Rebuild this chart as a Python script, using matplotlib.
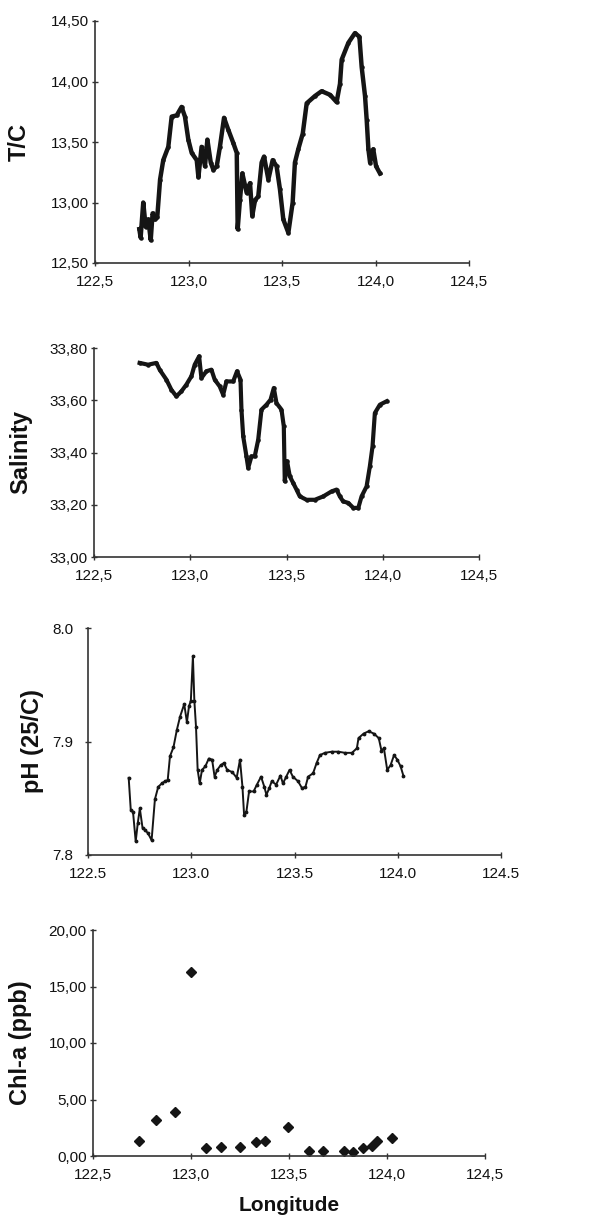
# Four stacked profiles along longitude: temperature, salinity, pH, chlorophyll-a
import matplotlib
matplotlib.use("Agg")
import matplotlib.pyplot as plt

plt.rcParams['font.family'] = ['Liberation Sans', 'DejaVu Sans']

# --- data ---
temp_lon = [122.737, 122.744, 122.758, 122.771, 122.785, 122.798, 122.808, 122.821, 122.833,
            122.848, 122.865, 122.892, 122.910, 122.937, 122.963, 122.981, 122.999, 123.017,
            123.044, 123.053, 123.070, 123.088, 123.101, 123.119, 123.133, 123.151, 123.168,
            123.190, 123.213, 123.240, 123.258, 123.263, 123.275, 123.288, 123.311, 123.329,
            123.341, 123.356, 123.373, 123.391, 123.404, 123.427, 123.450, 123.471, 123.489,
            123.507, 123.534, 123.557, 123.569, 123.587, 123.611, 123.632, 123.676, 123.712,
            123.757, 123.792, 123.810, 123.819, 123.855, 123.890, 123.914, 123.926, 123.944,
            123.953, 123.962, 123.971, 123.988, 124.003, 124.024]
temp_val = [12.78, 12.71, 13.00, 12.80, 12.86, 12.69, 12.91, 12.86, 12.88,
            13.19, 13.35, 13.46, 13.71, 13.72, 13.79, 13.71, 13.52, 13.41,
            13.35, 13.21, 13.46, 13.30, 13.52, 13.33, 13.27, 13.30, 13.46,
            13.70, 13.60, 13.49, 13.41, 12.78, 13.02, 13.24, 13.08, 13.16,
            12.89, 13.02, 13.05, 13.33, 13.38, 13.19, 13.35, 13.30, 13.11,
            12.86, 12.75, 13.00, 13.33, 13.44, 13.57, 13.82, 13.88, 13.92,
            13.89, 13.83, 13.98, 14.18, 14.32, 14.40, 14.37, 14.12, 13.88,
            13.68, 13.44, 13.33, 13.44, 13.30, 13.24]

sal_lon = [122.737, 122.781, 122.824, 122.841, 122.876, 122.902, 122.928, 122.954, 122.980,
           123.006, 123.023, 123.046, 123.058, 123.084, 123.110, 123.127, 123.153, 123.171,
           123.188, 123.223, 123.243, 123.261, 123.266, 123.275, 123.292, 123.301, 123.318,
           123.335, 123.353, 123.370, 123.396, 123.417, 123.434, 123.448, 123.474, 123.486,
           123.491, 123.503, 123.517, 123.535, 123.552, 123.569, 123.604, 123.647, 123.691,
           123.734, 123.760, 123.777, 123.794, 123.821, 123.847, 123.873, 123.890, 123.916,
           123.933, 123.947, 123.959, 123.985, 124.020]
sal_val = [33.743, 33.736, 33.743, 33.717, 33.679, 33.640, 33.615, 33.634, 33.660,
           33.692, 33.736, 33.768, 33.685, 33.711, 33.717, 33.679, 33.653, 33.621,
           33.672, 33.672, 33.711, 33.679, 33.564, 33.462, 33.385, 33.341, 33.385,
           33.385, 33.449, 33.564, 33.583, 33.602, 33.647, 33.589, 33.564, 33.500,
           33.290, 33.366, 33.309, 33.283, 33.258, 33.232, 33.219, 33.219, 33.232,
           33.251, 33.258, 33.232, 33.213, 33.207, 33.188, 33.188, 33.232, 33.270,
           33.347, 33.424, 33.551, 33.583, 33.596]

ph_lon = [122.697, 122.707, 122.718, 122.731, 122.741, 122.751, 122.764, 122.777, 122.791,
          122.808, 122.824, 122.840, 122.857, 122.873, 122.886, 122.897, 122.914, 122.930,
          122.946, 122.966, 122.979, 122.989, 122.998, 123.008, 123.015, 123.023, 123.031,
          123.041, 123.052, 123.068, 123.085, 123.101, 123.113, 123.126, 123.142, 123.158,
          123.174, 123.199, 123.220, 123.236, 123.248, 123.256, 123.267, 123.280, 123.302,
          123.318, 123.338, 123.354, 123.364, 123.378, 123.390, 123.411, 123.432, 123.444,
          123.460, 123.476, 123.492, 123.517, 123.536, 123.553, 123.566, 123.590, 123.607,
          123.623, 123.647, 123.680, 123.713, 123.745, 123.778, 123.802, 123.810, 123.835,
          123.859, 123.884, 123.908, 123.921, 123.933, 123.949, 123.965, 123.982, 123.998,
          124.014, 124.027]
ph_val = [7.868, 7.840, 7.838, 7.812, 7.828, 7.841, 7.824, 7.822, 7.819,
          7.813, 7.849, 7.860, 7.863, 7.865, 7.866, 7.887, 7.895, 7.910,
          7.922, 7.933, 7.917, 7.931, 7.936, 7.975, 7.936, 7.913, 7.875,
          7.863, 7.875, 7.878, 7.885, 7.884, 7.869, 7.875, 7.879, 7.881,
          7.875, 7.873, 7.868, 7.884, 7.860, 7.835, 7.838, 7.856, 7.856,
          7.862, 7.869, 7.860, 7.853, 7.859, 7.865, 7.862, 7.870, 7.863,
          7.869, 7.875, 7.869, 7.865, 7.859, 7.860, 7.869, 7.872, 7.881,
          7.888, 7.890, 7.891, 7.891, 7.890, 7.890, 7.894, 7.903, 7.907,
          7.909, 7.907, 7.903, 7.892, 7.894, 7.875, 7.879, 7.888, 7.884,
          7.878, 7.870]

chl_lon = [122.734, 122.823, 122.919, 123.000, 123.077, 123.151, 123.252, 123.331, 123.379,
           123.494, 123.600, 123.672, 123.780, 123.828, 123.875, 123.921, 123.950, 124.026]
chl_val = [1.33, 3.19, 3.86, 16.31, 0.68, 0.83, 0.83, 1.21, 1.36,
           2.60, 0.47, 0.47, 0.47, 0.32, 0.68, 0.91, 1.33, 1.56]

x_ticks = [122.5, 123.0, 123.5, 124.0, 124.5]
x_labels_comma = ['122,5', '123,0', '123,5', '124,0', '124,5']
x_labels_dot = ['122.5', '123.0', '123.5', '124.0', '124.5']
t_ticks = [12.5, 13.0, 13.5, 14.0, 14.5]
t_labels = ['12,50', '13,00', '13,50', '14,00', '14,50']
s_ticks = [33.0, 33.2, 33.4, 33.6, 33.8]
s_labels = ['33,00', '33,20', '33,40', '33,60', '33,80']
p_ticks = [7.8, 7.9, 8.0]
p_labels = ['7.8', '7.9', '8.0']
c_ticks = [0, 5, 10, 15, 20]
c_labels = ['0,00', '5,00', '10,00', '15,00', '20,00']

W, H = 600, 1220
fig = plt.figure(figsize=(W / 100, H / 100), dpi=100)
ink = '#151515'


def panel(left, right, top, bottom):
    ax = fig.add_axes([left / W, 1 - bottom / H, (right - left) / W, (bottom - top) / H])
    for s in ['top', 'right']:
        ax.spines[s].set_visible(False)
    for s in ['left', 'bottom']:
        ax.spines[s].set_color('#333333')
        ax.spines[s].set_linewidth(1.2)
    ax.tick_params(direction='inout', length=5, width=1, colors='#333333',
                   labelcolor='#111111', labelsize=11)
    ax.tick_params(axis='x', pad=6)
    ax.tick_params(axis='y', pad=2)
    ax.set_xlim(122.5, 124.5)
    ax.set_xticks(x_ticks)
    return ax


def ylab(ax, text, xpix, left, right):
    # xpix = right edge of the rotated label, in figure pixels
    ax.set_ylabel(text, fontsize=17, fontweight='bold', color='#111111')
    ax.yaxis.set_label_coords((xpix - left) / (right - left), 0.5)


# temperature
ax1 = panel(95, 469, 21, 263)
ax1.plot(temp_lon, temp_val, color=ink, lw=3.2, marker='.', ms=4.5)
ax1.set_ylim(12.5, 14.5)
ax1.set_yticks(t_ticks)
ax1.set_yticklabels(t_labels)
ax1.set_xticklabels(x_labels_comma)
ylab(ax1, 'T/C', 31, 95, 469)

# salinity
ax2 = panel(94, 479, 348, 557)
ax2.plot(sal_lon, sal_val, color=ink, lw=3.0, marker='.', ms=4.5)
ax2.set_ylim(33.0, 33.8)
ax2.set_yticks(s_ticks)
ax2.set_yticklabels(s_labels)
ax2.set_xticklabels(x_labels_comma)
ylab(ax2, 'Salinity', 32, 94, 479)

# pH
ax3 = panel(88, 501, 628, 855)
ax3.plot(ph_lon, ph_val, color=ink, lw=1.4, marker='.', ms=3.5)
ax3.set_ylim(7.8, 8.0)
ax3.set_yticks(p_ticks)
ax3.set_yticklabels(p_labels)
ax3.set_xticklabels(x_labels_dot)
ax3.tick_params(axis='y', pad=8)
ylab(ax3, 'pH (25/C)', 44, 88, 501)

# chlorophyll-a
ax4 = panel(93, 485, 930, 1156)
ax4.plot(chl_lon, chl_val, linestyle='none', color=ink, marker='D', ms=5.2)
ax4.set_ylim(0, 20)
ax4.set_yticks(c_ticks)
ax4.set_yticklabels(c_labels)
ax4.set_xticklabels(x_labels_comma)
ylab(ax4, 'Chl-a (ppb)', 32, 93, 485)
ax4.set_xlabel('Longitude', fontsize=15, fontweight='bold', color='#111111', labelpad=10)

fig.savefig('out.png', dpi=100, facecolor='white')
